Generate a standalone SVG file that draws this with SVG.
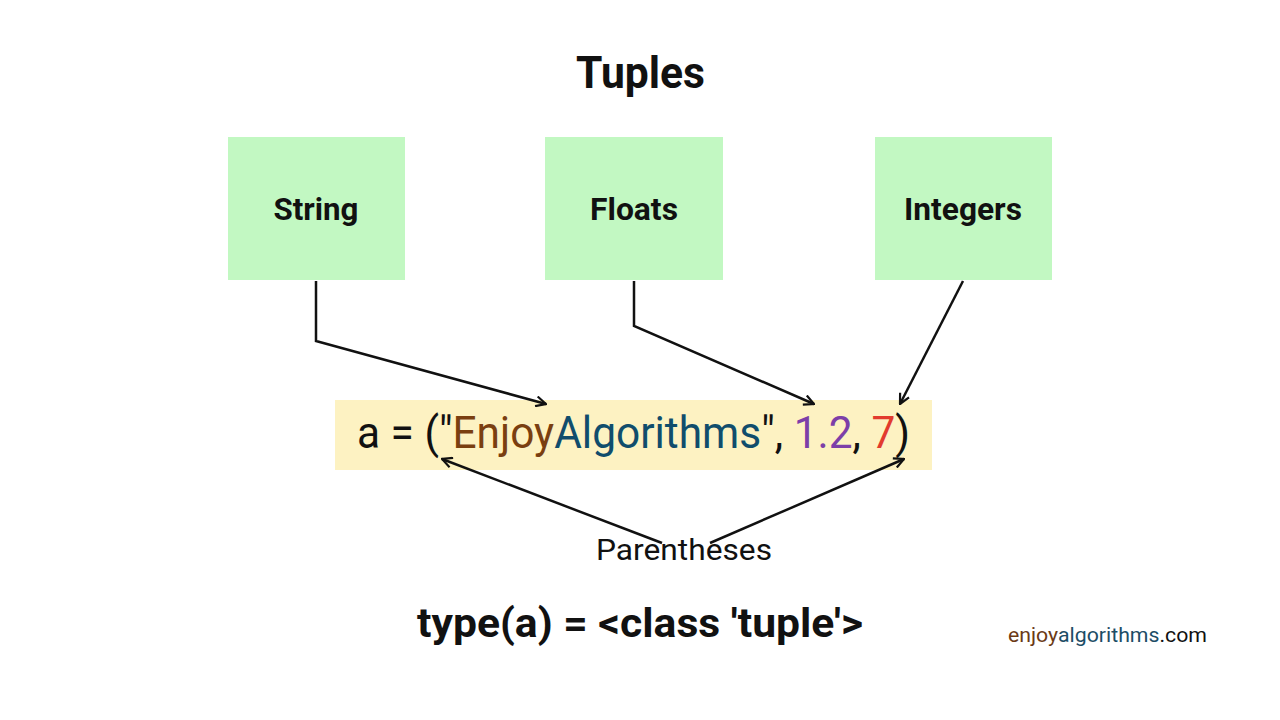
<svg xmlns="http://www.w3.org/2000/svg" width="1280" height="720" viewBox="0 0 1280 720">
<style>
.box{fill:#c2f8c2}
.lbl{font-family:Roboto,"Liberation Sans",sans-serif;font-weight:bold;font-size:31px;fill:#111;text-anchor:middle}
.conn{fill:none;stroke:#111;stroke-width:2.5}
</style>
<defs>
<marker id="arr" viewBox="0 0 12 12" refX="11" refY="6" markerWidth="12" markerHeight="12" markerUnits="userSpaceOnUse" orient="auto">
<path d="M1,1 L11,6 L1,11" fill="none" stroke="#111" stroke-width="2.2"/>
</marker>
</defs>
<rect width="1280" height="720" fill="#fff"/>
<text x="576" y="88" font-family="Roboto,'Liberation Sans',sans-serif" font-weight="bold" font-size="44" fill="#111" textLength="129" lengthAdjust="spacingAndGlyphs">Tuples</text>
<g id="node-string"><rect class="box" x="228" y="137" width="177" height="143"/><text class="lbl" x="316" y="220" textLength="85" lengthAdjust="spacingAndGlyphs">String</text></g>
<g id="node-floats"><rect class="box" x="545" y="137" width="178" height="143"/><text class="lbl" x="634" y="220" textLength="88" lengthAdjust="spacingAndGlyphs">Floats</text></g>
<g id="node-integers"><rect class="box" x="875" y="137" width="177" height="143"/><text class="lbl" x="963" y="220" textLength="118" lengthAdjust="spacingAndGlyphs">Integers</text></g>
<g id="node-tuple">
<rect x="335" y="400" width="597" height="70" fill="#fdf2c2"/>
<text x="357" y="448" font-family="Roboto,'Liberation Sans',sans-serif" font-size="44" fill="#111" textLength="553" lengthAdjust="spacingAndGlyphs">a = ("<tspan fill="#7a3f10">Enjoy</tspan><tspan fill="#104d6c">Algorithms</tspan>", <tspan fill="#7d3fa8">1.2</tspan>, <tspan fill="#e23b2e">7</tspan>)</text>
</g>
<g id="node-parentheses"><text x="596" y="560" font-family="Roboto,'Liberation Sans',sans-serif" font-size="29" fill="#111" textLength="176" lengthAdjust="spacingAndGlyphs">Parentheses</text></g>
<g id="connectors">
<path class="conn" d="M316,281 V341 L546,404" marker-end="url(#arr)"/>
<path class="conn" d="M634,281 V326 L814,404" marker-end="url(#arr)"/>
<path class="conn" d="M963,281 L900,404" marker-end="url(#arr)"/>
<path class="conn" d="M662,543 L442,459" marker-end="url(#arr)"/>
<path class="conn" d="M710,543 L904,459" marker-end="url(#arr)"/>
</g>
<text x="417" y="637" font-family="Roboto,'Liberation Sans',sans-serif" font-weight="bold" font-size="40" fill="#111" textLength="446" lengthAdjust="spacingAndGlyphs">type(a) = &lt;class 'tuple'&gt;</text>
<text x="1008" y="642" font-family="Roboto,'Liberation Sans',sans-serif" font-size="20" fill="#111" textLength="199" lengthAdjust="spacingAndGlyphs"><tspan fill="#6b3a16">enjoy</tspan><tspan fill="#1d4d66">algorithms</tspan>.com</text>
</svg>
